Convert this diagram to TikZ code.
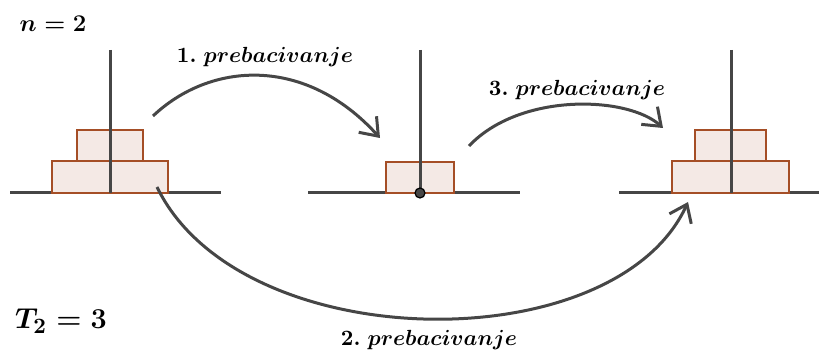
\documentclass[tikz,border=0pt]{standalone}
\usepackage{amsmath}
\usetikzlibrary{arrows.meta}
\definecolor{diskline}{RGB}{165,78,38}
\definecolor{diskfill}{RGB}{244,233,229}
\definecolor{pegline}{RGB}{70,70,70}
\begin{document}
\begin{tikzpicture}[x=0.5pt, y=-0.5pt,
  hanoibase/.style = {line width=1.5pt, draw=pegline},
  hanoipeg/.style = {line width=1.5pt, draw=pegline},
  hanoidisk/.style = {line width=1.1pt, draw=diskline, fill=diskfill},
  hanoimove/.style = {line width=1.5pt, draw=pegline, -{Straight Barb[length=8pt,width=12pt]}},
  hanoilbl/.style = {font=\fontsize{11}{13}\selectfont\boldmath}
]
  \useasboundingbox (0,0) rectangle (819,352);
  % bases
  \draw[hanoibase] (10,193) -- (221,193);
  \draw[hanoibase] (308,193) -- (520,193);
  \draw[hanoibase] (619,193) -- (819,193);
  % disks
  \draw[hanoidisk] (52,161) rectangle (168,193);
  \draw[hanoidisk] (77,130) rectangle (143,161);
  \draw[hanoidisk] (386,162) rectangle (454,193);
  \draw[hanoidisk] (672,161) rectangle (789,193);
  \draw[hanoidisk] (695,130) rectangle (766,161);
  % pegs
  \draw[hanoipeg] (110,50) -- (110,193);
  \draw[hanoipeg] (420,50) -- (420,193);
  \draw[hanoipeg] (731,50) -- (731,193);
  \filldraw[fill=pegline, draw=black, line width=0.6pt] (420,193) circle (2.5pt);
  % ends of the moves
  \coordinate (m1s) at (153,116);
  \coordinate (m1e) at (380,138);
  \coordinate (m2s) at (157,187);
  \coordinate (m2e) at (688,202);
  \coordinate (m3s) at (469,146);
  \coordinate (m3e) at (663,128);
  % moves
  \draw[hanoimove] (m1s) .. controls (210,62) and (305,55) .. (m1e);
  \draw[hanoimove] (m2s) .. controls (240,358) and (615,362) .. (m2e);
  \draw[hanoimove] (m3s) .. controls (520,92) and (628,96) .. (m3e);
  % labels
  \node[hanoilbl] (l1) at (265,57) {$1.\ prebacivanje$};
  \node[hanoilbl] (l2) at (429,340) {$2.\ prebacivanje$};
  \node[hanoilbl] (l3) at (577,90) {$3.\ prebacivanje$};
  \node[font=\fontsize{11.5}{14}\selectfont\boldmath] (n) at (53,24) {$n=2$};
  \node[font=\fontsize{15}{18}\selectfont\boldmath] (t) at (61,321) {$T_2=3$};
\end{tikzpicture}
\end{document}
